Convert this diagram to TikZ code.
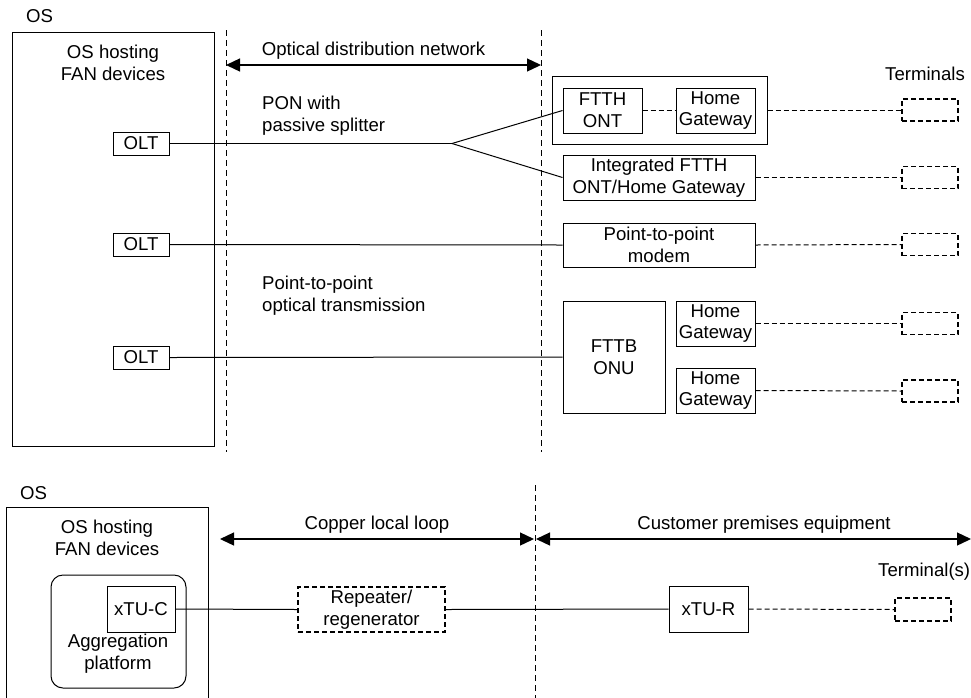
\documentclass[tikz,border=0pt]{standalone}
\usepackage{fontspec}
\setmainfont{Liberation Sans}
\usetikzlibrary{arrows.meta}
\begin{document}
\begin{tikzpicture}[x=1pt,y=-1pt,
  every node/.style={font=\fontsize{18.6}{21.8}\selectfont, inner sep=0pt, align=center},
  box/.style={draw, line width=1pt},
  term/.style={draw, line width=1.4pt, dash pattern=on 5pt off 3pt, minimum width=56pt, minimum height=22pt},
  conn/.style={line width=1pt},
  dconn/.style={line width=1pt, dash pattern=on 5pt off 3pt},
  border/.style={line width=1pt, dash pattern=on 6pt off 4pt},
  dim/.style={line width=1.3pt, {Triangle[length=14pt,width=13pt]}-{Triangle[length=14pt,width=13pt]}}
]
\useasboundingbox (0,0) rectangle (971,697);

% ---------- top part ----------
\node[anchor=west] (os1) at (26,16) {OS};
\node[box, minimum width=202pt, minimum height=414pt] (host1) at (113,239) {};
\node (host1t) at (113,63) {OS hosting\\FAN devices};
\node[box, minimum width=56pt, minimum height=23pt] (olt1) at (141,143.5) {OLT};
\node[box, minimum width=56pt, minimum height=23pt] (olt2) at (141,244.5) {OLT};
\node[box, minimum width=56pt, minimum height=23pt] (olt3) at (141,357.5) {OLT};

\coordinate (v1t) at (226,30);
\coordinate (v1b) at (226,452);
\coordinate (v2t) at (541,30);
\coordinate (v2b) at (541,452);
\draw[border] (v1t) -- (v1b);
\draw[border] (v2t) -- (v2b);
\coordinate (a1l) at (226,65);
\coordinate (a1r) at (541,65);
\draw[dim] (a1l) -- (a1r);
\node (odn) at (373.5,51) {Optical distribution network};

\node[anchor=west, align=left] (pon) at (262,116) {PON with\\passive splitter};
\node[anchor=west, align=left] (p2pt) at (262,296) {Point-to-point\\optical transmission};
\node[anchor=west] (terms) at (885,74) {Terminals};

\node[box, minimum width=215pt, minimum height=68pt] (ontgw) at (659.5,110) {};
\node[box, minimum width=79pt, minimum height=45pt] (ftth) at (602.5,110.5) {FTTH\\ONT};
\node[box, minimum width=79pt, minimum height=45pt] (hg1) at (715.5,110.5) {Home\\Gateway};
\node[box, minimum width=192pt, minimum height=45pt] (integ) at (659,177.5) {Integrated FTTH\\ONT/Home Gateway};
\node[box, minimum width=192pt, minimum height=44pt] (modem) at (659,245) {Point-to-point\\modem};
\node[box, minimum width=102pt, minimum height=112pt] (fttb) at (614,357) {FTTB\\ONU};
\node[box, minimum width=79pt, minimum height=45pt] (hg2) at (715.5,323.5) {Home\\Gateway};
\node[box, minimum width=79pt, minimum height=45pt] (hg3) at (715.5,390.5) {Home\\Gateway};

\node[term] (t1) at (930,110) {};
\node[term] (t2) at (930,177.5) {};
\node[term] (t3) at (930,244.5) {};
\node[term] (t4) at (930,323.5) {};
\node[term] (t5) at (930,391) {};

\coordinate (split) at (452,143.5);
\draw[conn] (olt1.east) -- (split);
\draw[conn] (split) -- (ftth.west);
\draw[conn] (split) -- (integ.west);
\draw[conn] (olt2.east) -- (modem.west);
\draw[conn] (olt3.east) -- (fttb.west);
\draw[dconn] (ftth.east) -- (hg1.west);
\draw[dconn] (ontgw.east) -- (t1.west);
\draw[dconn] (integ.east) -- (t2.west);
\draw[dconn] (modem.east) -- (t3.west);
\draw[dconn] (hg2.east) -- (t4.west);
\draw[dconn] (hg3.east) -- (t5.west);

% ---------- bottom part ----------
\node[anchor=west] (os2) at (20,493) {OS};
\coordinate (h2a) at (6,700);
\coordinate (h2b) at (6,507);
\coordinate (h2c) at (208,507);
\coordinate (h2d) at (208,700);
\draw[line width=1pt] (h2a) -- (h2b) -- (h2c) -- (h2d);
\node (host2t) at (107,538) {OS hosting\\FAN devices};
\node[box, rounded corners=12pt, minimum width=135pt, minimum height=113pt] (agg) at (118.5,631.5) {};
\node[box, minimum width=68pt, minimum height=46pt] (xtuc) at (141,609) {xTU-C};
\node (aggt) at (118,654) {Aggregation\\platform};

\coordinate (v3t) at (535,485);
\coordinate (v3b) at (535,700);
\draw[border] (v3t) -- (v3b);
\coordinate (a2l) at (220,539);
\coordinate (a2r) at (534,539);
\coordinate (a3l) at (536,539);
\coordinate (a3r) at (971,539);
\draw[dim] (a2l) -- (a2r);
\draw[dim] (a3l) -- (a3r);
\node (cll) at (377,525) {Copper local loop};
\node (cpe) at (764,525) {Customer premises equipment};

\node[draw, line width=1.4pt, dash pattern=on 5pt off 3pt, minimum width=147pt, minimum height=45pt] (rep) at (371.5,609.5) {Repeater/\\regenerator};
\node[box, minimum width=79pt, minimum height=46pt] (xtur) at (708.5,609) {xTU-R};
\node[term, minimum height=23pt] (t6) at (923,609.5) {};
\node[anchor=west] (terms2) at (878,572) {Terminal(s)};

\draw[conn] (xtuc.east) -- (rep.west);
\draw[conn] (rep.east) -- (xtur.west);
\draw[dconn] (xtur.east) -- (t6.west);
\end{tikzpicture}
\end{document}
